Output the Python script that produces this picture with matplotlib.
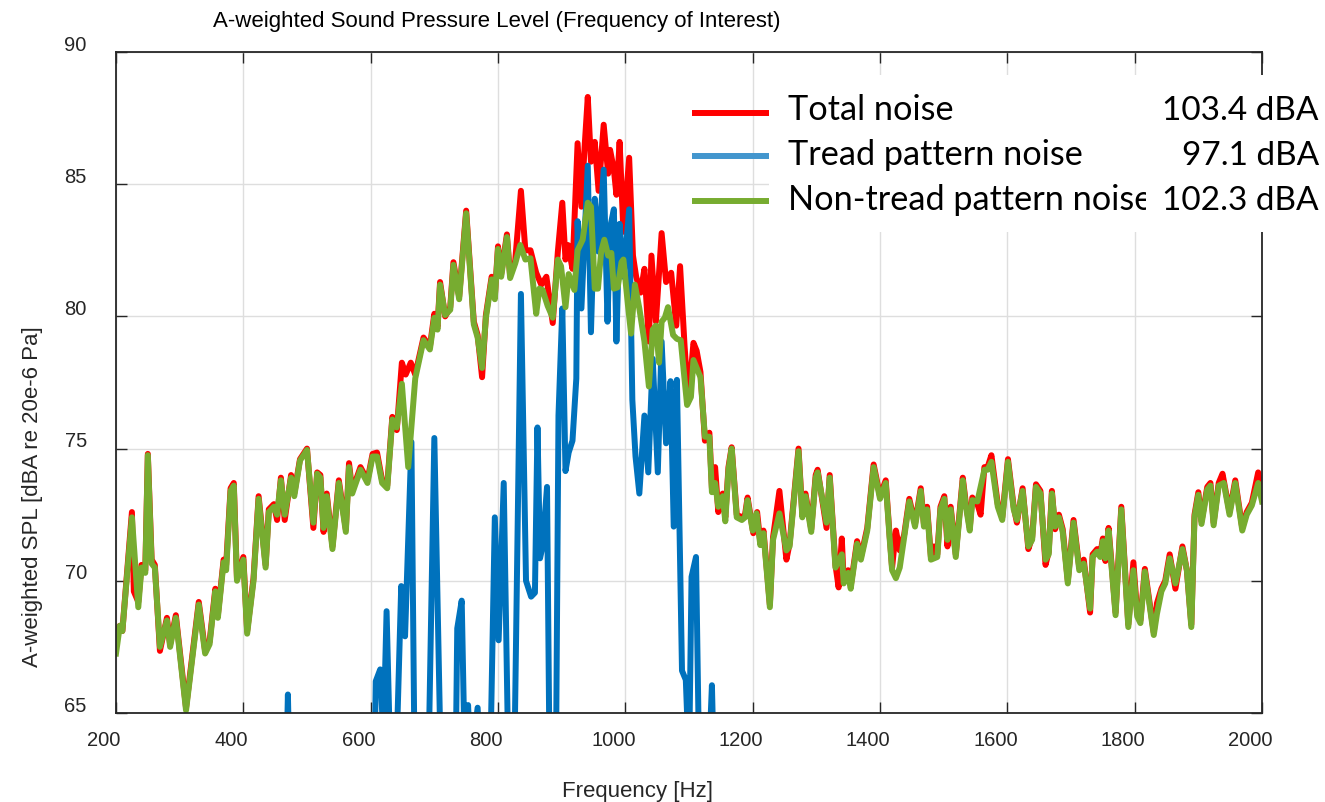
import matplotlib.pyplot as plt
from matplotlib.transforms import ScaledTranslation
from matplotlib.patches import Rectangle
from matplotlib.lines import Line2D

plt.rcParams['font.family'] = ['Liberation Sans', 'DejaVu Sans']

# Non-tread pattern noise spectrum [Hz, dBA]
freq_nontread = [
    200, 206, 210, 225, 235, 240, 246, 250, 256, 261,
    269, 280, 285, 294, 310, 322, 330, 340, 347, 356,
    360, 369, 373, 380, 385, 390, 400, 406, 416, 424,
    435, 440, 448, 453, 459, 465, 475, 480, 489, 500,
    510, 516, 521, 526, 531, 540, 550, 561, 566, 571,
    584, 595, 603, 610, 618, 626, 634, 641, 649, 659,
    670, 683, 693, 700, 705, 709, 717, 725, 730, 739,
    750, 762, 768, 775, 781, 790, 795, 800, 805, 814,
    819, 827, 835, 843, 851, 860, 865, 870, 878, 886,
    894, 899, 906, 911, 920, 925, 933, 941, 946, 952,
    957, 962, 967, 973, 978, 982, 988, 994, 997, 1004,
    1009, 1015, 1022, 1030, 1037, 1043, 1048, 1053, 1057, 1062,
    1067, 1075, 1081, 1087, 1097, 1103, 1107, 1118, 1125, 1132,
    1136, 1141, 1146, 1153, 1157, 1162, 1167, 1175, 1183, 1188,
    1192, 1200, 1206, 1212, 1217, 1227, 1232, 1242, 1253, 1258,
    1272, 1278, 1283, 1292, 1299, 1302, 1316, 1321, 1326, 1330,
    1340, 1343, 1350, 1354, 1364, 1370, 1380, 1390, 1400, 1409,
    1415, 1419, 1425, 1431, 1438, 1446, 1455, 1464, 1469, 1474,
    1480, 1490, 1495, 1501, 1506, 1511, 1519, 1530, 1535, 1541,
    1545, 1553, 1564, 1569, 1575, 1585, 1592, 1601, 1610, 1615,
    1624, 1633, 1639, 1645, 1652, 1660, 1665, 1670, 1675, 1681,
    1687, 1695, 1704, 1713, 1720, 1730, 1734, 1741, 1746, 1750,
    1754, 1759, 1770, 1779, 1790, 1798, 1804, 1809, 1816, 1823,
    1830, 1835, 1842, 1848, 1855, 1864, 1875, 1882, 1889, 1894,
    1900, 1905, 1914, 1919, 1924, 1932, 1940, 1949, 1958, 1969,
    1976, 1984, 1994, 2000,
]
spl_nontread = [
    67.25, 68.3, 68.1, 72.4, 69.0, 70.5, 70.3, 74.75, 70.65, 70.5,
    67.5, 68.5, 67.5, 68.6, 65.1, 67.5, 69.1, 67.25, 67.6, 69.6,
    68.6, 70.7, 70.4, 73.4, 73.6, 70.0, 70.8, 68.0, 70.0, 73.1,
    70.5, 72.6, 72.8, 72.5, 73.8, 72.5, 73.9, 73.2, 74.55, 74.95,
    72.2, 74.05, 73.9, 72.0, 73.2, 71.2, 73.7, 71.85, 74.3, 73.3,
    74.2, 73.7, 74.7, 74.7, 73.7, 73.5, 76.1, 75.8, 77.45, 74.3,
    77.65, 79.1, 78.75, 79.95, 79.5, 81.2, 80.05, 80.25, 81.95, 80.65,
    83.9, 79.7, 79.2, 78.05, 79.95, 81.4, 80.65, 82.55, 81.5, 83.0,
    81.45, 82.0, 82.7, 82.15, 82.2, 80.1, 81.05, 81.0, 80.4, 79.95,
    82.15, 81.9, 80.35, 81.6, 81.0, 82.5, 82.9, 84.3, 84.15, 81.05,
    81.05, 82.45, 82.9, 82.3, 82.4, 81.05, 81.1, 82.05, 82.15, 80.45,
    79.35, 81.2, 80.3, 79.05, 77.35, 79.5, 79.65, 78.25, 79.8, 79.95,
    80.35, 79.3, 79.15, 79.1, 76.65, 76.95, 78.35, 77.7, 75.45, 75.45,
    73.35, 73.7, 72.8, 73.2, 72.25, 74.2, 75.0, 72.4, 72.3, 72.4,
    73.05, 71.9, 72.55, 71.35, 71.8, 69.0, 71.55, 72.55, 71.15, 71.3,
    74.9, 72.4, 73.2, 71.85, 73.9, 74.1, 72.2, 73.9, 72.0, 70.5,
    71.0, 69.9, 70.3, 69.7, 71.4, 70.8, 71.9, 74.3, 73.1, 73.7,
    71.65, 70.4, 70.1, 70.5, 71.65, 73.0, 72.05, 73.4, 72.05, 72.7,
    70.8, 70.9, 72.7, 73.1, 71.55, 72.7, 70.9, 73.8, 72.8, 71.9,
    73.05, 73.0, 74.2, 74.2, 74.5, 72.8, 72.3, 74.5, 72.7, 72.3,
    73.4, 71.3, 71.55, 73.55, 73.3, 70.8, 71.0, 73.3, 72.05, 72.4,
    71.85, 69.9, 72.2, 70.4, 70.65, 68.95, 70.9, 71.1, 70.9, 71.5,
    70.85, 71.9, 68.7, 72.7, 68.25, 70.4, 68.65, 68.4, 70.35, 69.15,
    67.95, 68.75, 69.6, 69.9, 70.85, 69.9, 71.2, 70.4, 68.25, 72.4,
    73.25, 72.15, 73.45, 73.6, 72.1, 73.6, 73.7, 72.5, 73.7, 71.9,
    72.5, 72.85, 73.7, 73.0,
]

# Total noise spectrum [Hz, dBA]
freq_total = [
    200, 206, 210, 225, 228, 235, 240, 246, 250, 256,
    261, 269, 280, 285, 294, 310, 322, 330, 340, 347,
    356, 360, 369, 373, 380, 385, 390, 400, 406, 416,
    424, 435, 440, 448, 453, 459, 465, 475, 480, 489,
    500, 510, 516, 521, 526, 531, 540, 550, 561, 566,
    571, 584, 595, 603, 610, 618, 626, 634, 641, 649,
    655, 663, 670, 683, 693, 700, 705, 709, 717, 725,
    730, 739, 750, 762, 768, 775, 781, 790, 795, 800,
    805, 814, 819, 827, 836, 843, 851, 860, 868, 876,
    886, 894, 901, 906, 910, 917, 925, 931, 936, 941,
    946, 952, 958, 966, 973, 976, 982, 986, 991, 997,
    1006, 1012, 1017, 1024, 1030, 1037, 1041, 1048, 1057, 1064,
    1072, 1080, 1086, 1093, 1099, 1107, 1112, 1118, 1125, 1132,
    1136, 1141, 1146, 1153, 1157, 1162, 1167, 1175, 1183, 1188,
    1192, 1201, 1207, 1212, 1217, 1227, 1232, 1242, 1253, 1258,
    1272, 1278, 1283, 1292, 1299, 1302, 1316, 1321, 1326, 1330,
    1335, 1340, 1343, 1350, 1354, 1364, 1370, 1380, 1390, 1400,
    1409, 1415, 1419, 1425, 1431, 1438, 1446, 1455, 1464, 1469,
    1474, 1480, 1485, 1490, 1495, 1501, 1506, 1511, 1519, 1530,
    1535, 1541, 1545, 1553, 1558, 1564, 1569, 1575, 1585, 1592,
    1601, 1610, 1615, 1624, 1633, 1639, 1645, 1652, 1660, 1665,
    1670, 1675, 1681, 1687, 1695, 1704, 1713, 1720, 1730, 1734,
    1741, 1746, 1750, 1754, 1759, 1770, 1779, 1790, 1798, 1804,
    1809, 1816, 1823, 1830, 1835, 1842, 1848, 1855, 1864, 1875,
    1882, 1889, 1894, 1900, 1905, 1914, 1919, 1924, 1932, 1938,
    1949, 1958, 1969, 1976, 1984, 1994, 2000,
]
spl_total = [
    68.1, 68.3, 68.1, 72.6, 69.6, 69.2, 70.6, 70.4, 74.8, 70.8,
    70.6, 67.35, 68.6, 67.6, 68.7, 65.2, 67.6, 69.2, 67.35, 67.7,
    69.7, 68.7, 70.8, 70.6, 73.5, 73.7, 70.1, 70.9, 68.1, 70.1,
    73.2, 70.6, 72.7, 72.9, 72.3, 73.9, 72.3, 74.0, 73.3, 74.6,
    75.0, 72.0, 74.1, 74.0, 71.85, 73.3, 71.3, 73.8, 71.95, 74.45,
    73.4, 74.3, 73.8, 74.8, 74.85, 73.8, 73.6, 76.2, 75.7, 78.25,
    77.8, 78.25, 77.8, 79.2, 78.85, 80.1, 79.6, 81.3, 80.0, 80.35,
    82.05, 80.75, 84.0, 79.8, 79.3, 77.7, 80.05, 81.5, 80.75, 82.65,
    81.6, 83.1, 81.55, 82.1, 84.75, 82.5, 82.5, 81.65, 81.2, 81.5,
    79.75, 82.45, 84.3, 82.15, 82.7, 81.8, 86.55, 84.15, 86.4, 88.3,
    85.85, 86.6, 84.75, 87.25, 85.4, 86.3, 85.55, 84.6, 86.6, 83.2,
    86.0, 82.3, 81.5, 80.9, 81.8, 79.05, 82.3, 79.8, 83.15, 81.3,
    81.65, 79.65, 81.9, 78.9, 76.8, 79.0, 78.7, 77.9, 75.3, 75.6,
    73.5, 74.3, 72.6, 73.3, 72.4, 74.3, 75.05, 72.5, 72.4, 72.5,
    73.15, 71.8, 72.6, 71.45, 71.9, 69.1, 71.65, 73.4, 70.8, 71.4,
    75.0, 72.5, 73.3, 71.95, 74.0, 74.2, 72.0, 74.0, 72.1, 70.6,
    69.75, 71.6, 70.0, 70.4, 69.8, 71.5, 70.9, 72.0, 74.4, 73.2,
    73.8, 71.75, 70.5, 71.9, 71.15, 71.75, 73.1, 72.15, 73.5, 72.15,
    72.8, 70.9, 71.3, 71.0, 72.8, 73.2, 71.3, 72.8, 71.0, 73.9,
    72.9, 72.0, 73.15, 72.9, 72.5, 74.3, 74.3, 74.75, 72.9, 72.4,
    74.6, 72.8, 72.2, 73.5, 71.2, 71.65, 73.65, 73.4, 70.6, 71.1,
    73.4, 71.95, 72.5, 71.95, 70.0, 72.3, 70.5, 70.8, 68.8, 71.0,
    71.2, 71.0, 71.6, 70.75, 72.0, 68.8, 72.8, 68.35, 70.7, 68.75,
    68.5, 70.45, 69.25, 68.05, 69.15, 69.7, 70.0, 71.0, 69.7, 71.3,
    70.4, 68.35, 72.5, 73.35, 72.25, 73.55, 73.7, 72.2, 73.7, 74.05,
    72.6, 73.8, 72.0, 72.6, 72.95, 74.1, 73.1,
]

# Tread pattern noise spectrum [Hz, dBA], mostly below the 65 dBA floor
freq_tread = [
    200, 300, 400, 465, 470, 475, 550, 600, 606, 608,
    615, 620, 625, 631, 640, 648, 654, 664, 669, 690,
    700, 711, 733, 736, 743, 748, 753, 757, 768, 772,
    787, 795, 801, 809, 817, 825, 836, 844, 852, 858,
    862, 866, 870, 877, 881, 891, 895, 901, 906, 911,
    917, 923, 925, 931, 941, 946, 952, 958, 966, 972,
    976, 982, 986, 991, 997, 1006, 1011, 1016, 1022, 1030,
    1036, 1043, 1051, 1057, 1064, 1071, 1076, 1081, 1089, 1095,
    1100, 1104, 1111, 1116, 1131, 1136, 1140, 1200, 1500, 2000,
]
spl_tread = [
    55, 56, 57, 60, 65.7, 60, 59, 61, 63, 66.2,
    66.65, 64.0, 68.85, 63, 63, 69.8, 67.9, 75.25, 63, 62,
    75.4, 62, 62, 68.2, 69.25, 63, 65.3, 63, 65.2, 63,
    62, 72.4, 67.75, 73.7, 62, 62, 80.85, 70.0, 69.4, 69.55,
    75.8, 70.85, 71.3, 73.55, 63, 63, 76.25, 80.3, 74.15, 74.85,
    75.3, 77.65, 83.6, 80.3, 85.7, 79.4, 84.45, 82.45, 85.55, 79.8,
    83.35, 84.05, 79.05, 83.5, 81.5, 84.05, 76.85, 74.7, 73.3, 76.25,
    74.1, 78.4, 74.1, 79.05, 75.2, 77.55, 72.05, 77.6, 66.6, 66.25,
    63, 70.15, 70.9, 63, 63, 66.05, 62, 58, 55, 55,
]

legend_names = ["Total noise", "Tread pattern noise", "Non-tread pattern noise"]
legend_levels = ["103.4 dBA", "97.1 dBA", "102.3 dBA"]

RED = "#FF0000"
BLUE = "#0072BD"
GREEN = "#77AC30"
INK = "#262626"

W, H = 1325, 802
fig = plt.figure(figsize=(W / 100, H / 100), dpi=100)
ax = fig.add_axes([116 / W, 1 - 713 / H, (1262 - 116) / W, (713 - 52) / H])

lw = 4.3
ax.plot(freq_total, spl_total, color=RED, lw=lw, solid_joinstyle="round")
ax.plot(freq_tread, spl_tread, color=BLUE, lw=lw, solid_joinstyle="round")
ax.plot(freq_nontread, spl_nontread, color=GREEN, lw=lw, solid_joinstyle="round")

ax.set_xlim(200, 2000)
ax.set_ylim(65, 90)
ax.set_xticks(range(200, 2001, 200))
ax.set_yticks(range(65, 91, 5))
ax.grid(True, color="#DEDEDE", lw=1)
ax.set_axisbelow(True)
for sp in ax.spines.values():
    sp.set_color(INK)
    sp.set_linewidth(1.3)

ax.tick_params(direction="in", length=8, width=1, top=True, right=True,
               labelsize=14.5, colors=INK)
ax.tick_params(axis="x", pad=13)
ax.tick_params(axis="y", pad=21)

# tick labels sit a little up/left of their ticks
for lbl in ax.get_xticklabels():
    lbl.set_transform(lbl.get_transform() + ScaledTranslation(-0.12, 0, fig.dpi_scale_trans))
for lbl in ax.get_yticklabels():
    lbl.set_transform(lbl.get_transform() + ScaledTranslation(0, 0.09, fig.dpi_scale_trans))

fig.text(497 / W, 1 - 27 / H, "A-weighted Sound Pressure Level (Frequency of Interest)",
         ha="center", va="baseline", fontsize=16, color="black")
fig.text(637 / W, 1 - 792 / H, "Frequency [Hz]", ha="center", va="center",
         fontsize=16, color=INK)
fig.text(33 / W, 1 - 497 / H, "A-weighted SPL [dBA re 20e-6 Pa]", ha="center",
         va="center", rotation=90, fontsize=16, color=INK)

# legend block
fig.add_artist(Rectangle((769 / W, 1 - 232 / H), (W - 769) / W, (232 - 75) / H,
                         transform=fig.transFigure, facecolor="white",
                         edgecolor="none", zorder=5))
sample_colors = [RED, "#4396CE", GREEN]
line_y = [113, 156, 201]
base_y = [120, 165, 210]
for name, color, ly, by in zip(legend_names, sample_colors, line_y, base_y):
    fig.add_artist(Line2D([692 / W, 769 / W], [1 - ly / H, 1 - ly / H],
                          transform=fig.transFigure, color=color, lw=4.3,
                          solid_capstyle="butt", zorder=6))
    fig.text(788 / W, 1 - by / H, name, ha="left", va="baseline", fontsize=24.7,
             family=["Lato", "DejaVu Sans"], color="black", zorder=6)
fig.add_artist(Rectangle((1146 / W, 1 - 232 / H), (W - 1146) / W, (232 - 75) / H,
                         transform=fig.transFigure, facecolor="white",
                         edgecolor="none", zorder=7))
for level, by in zip(legend_levels, base_y):
    fig.text(1319 / W, 1 - by / H, level, ha="right", va="baseline", fontsize=24,
             family=["Lato", "DejaVu Sans"], color="black", zorder=8)

fig.savefig("out.png", dpi=100)
